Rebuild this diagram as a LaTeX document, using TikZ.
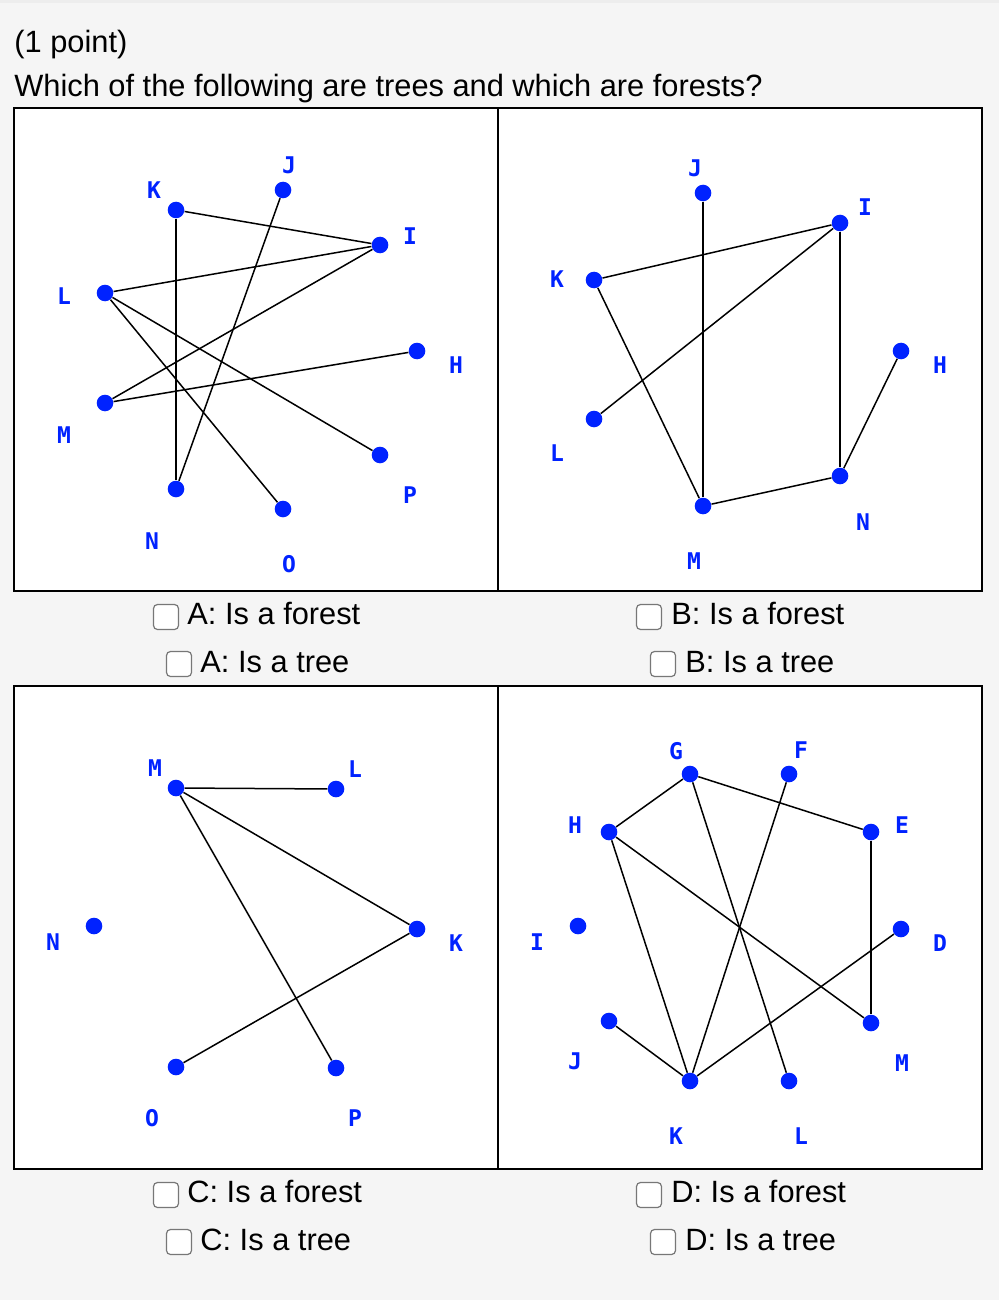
\documentclass[tikz,border=0pt]{standalone}
\usepackage{fontspec}
\setmainfont{Liberation Sans}
\newfontfamily\pixfont{DejaVu Sans Mono}
\usetikzlibrary{positioning}
\usepackage{xcolor}
\definecolor{pagebg}{HTML}{F5F5F5}
\definecolor{boxgray}{HTML}{777777}
\definecolor{dotblue}{HTML}{0022FF}

\begin{document}
\begin{tikzpicture}[x=0.5pt, y=-0.5pt,
  every node/.style={font=\fontsize{15.4}{18}\selectfont},
  panel/.style={draw=black, line width=1pt, fill=white},
  vert/.style={circle, fill=dotblue, inner sep=0pt, minimum size=8.3pt},
  vlabel/.style={text=dotblue, inner sep=0pt, font=\pixfont\bfseries\fontsize{11.5}{11.5}\selectfont},
  link/.style={draw=black, line width=0.75pt},
  checkbox/.style={draw=boxgray, fill=white, rounded corners=2pt, line width=0.6pt, minimum size=12.5pt, inner sep=0pt},
  choice/.style={anchor=base west, inner sep=0pt}]
\fill[pagebg] (0,0) rectangle (999,1300);
\fill[black!7] (0,0) rectangle (999,3);
\node[choice] (points) at (14,53) {(1 point)};
\node[choice] (question) at (14,97) {Which of the following are trees and which are forests?};
% the four frames
\draw[panel] (14,108) rectangle (498,591);
\draw[panel] (498,108) rectangle (982,591);
\draw[panel] (14,686) rectangle (498,1169);
\draw[panel] (498,686) rectangle (982,1169);
% graph A
\node[vert] (aK) at (176,210) {};
\node[vert] (aJ) at (283,190) {};
\node[vert] (aI) at (380,245) {};
\node[vert] (aL) at (105,293) {};
\node[vert] (aH) at (417,351) {};
\node[vert] (aM) at (105,403) {};
\node[vert] (aP) at (380,455) {};
\node[vert] (aN) at (176,489) {};
\node[vert] (aO) at (283,509) {};
\node[vlabel] (aKl) at (154,190) {K};
\node[vlabel] (aJl) at (289,165) {J};
\node[vlabel] (aIl) at (410,236) {I};
\node[vlabel] (aLl) at (64,296) {L};
\node[vlabel] (aHl) at (456,365) {H};
\node[vlabel] (aMl) at (64,435) {M};
\node[vlabel] (aPl) at (410,495) {P};
\node[vlabel] (aNl) at (152,541) {N};
\node[vlabel] (aOl) at (289,564) {O};
\draw[link] (aK) -- (aI);
\draw[link] (aK) -- (aN);
\draw[link] (aJ) -- (aN);
\draw[link] (aL) -- (aI);
\draw[link] (aM) -- (aI);
\draw[link] (aL) -- (aP);
\draw[link] (aL) -- (aO);
\draw[link] (aM) -- (aH);
% graph B
\node[vert] (bJ) at (703,193) {};
\node[vert] (bI) at (840,223) {};
\node[vert] (bK) at (594,280) {};
\node[vert] (bH) at (901,351) {};
\node[vert] (bL) at (594,419) {};
\node[vert] (bN) at (840,476) {};
\node[vert] (bM) at (703,506) {};
\node[vlabel] (bJl) at (695,168) {J};
\node[vlabel] (bIl) at (865,207) {I};
\node[vlabel] (bKl) at (557,279) {K};
\node[vlabel] (bHl) at (940,365) {H};
\node[vlabel] (bLl) at (557,453) {L};
\node[vlabel] (bNl) at (863,522) {N};
\node[vlabel] (bMl) at (694,561) {M};
\draw[link] (bJ) -- (bM);
\draw[link] (bK) -- (bI);
\draw[link] (bI) -- (bL);
\draw[link] (bI) -- (bN);
\draw[link] (bK) -- (bM);
\draw[link] (bM) -- (bN);
\draw[link] (bN) -- (bH);
% graph C
\node[vert] (cM) at (176,788) {};
\node[vert] (cL) at (336,789) {};
\node[vert] (cN) at (94,926) {};
\node[vert] (cK) at (417,929) {};
\node[vert] (cO) at (176,1067) {};
\node[vert] (cP) at (336,1068) {};
\node[vlabel] (cMl) at (155,768) {M};
\node[vlabel] (cLl) at (355,769) {L};
\node[vlabel] (cNl) at (53,942) {N};
\node[vlabel] (cKl) at (456,943) {K};
\node[vlabel] (cOl) at (152,1118) {O};
\node[vlabel] (cPl) at (355,1118) {P};
\draw[link] (cM) -- (cL);
\draw[link] (cM) -- (cK);
\draw[link] (cM) -- (cP);
\draw[link] (cK) -- (cO);
% graph D
\node[vert] (dG) at (690,774) {};
\node[vert] (dF) at (789,774) {};
\node[vert] (dH) at (609,832) {};
\node[vert] (dE) at (871,832) {};
\node[vert] (dI) at (578,926) {};
\node[vert] (dD) at (901,929) {};
\node[vert] (dJ) at (609,1021) {};
\node[vert] (dM) at (871,1023) {};
\node[vert] (dK) at (690,1081) {};
\node[vert] (dL) at (789,1081) {};
\node[vlabel] (dGl) at (676,751) {G};
\node[vlabel] (dFl) at (801,750) {F};
\node[vlabel] (dHl) at (575,825) {H};
\node[vlabel] (dEl) at (902,825) {E};
\node[vlabel] (dIl) at (537,942) {I};
\node[vlabel] (dDl) at (940,943) {D};
\node[vlabel] (dJl) at (575,1061) {J};
\node[vlabel] (dMl) at (902,1063) {M};
\node[vlabel] (dKl) at (676,1136) {K};
\node[vlabel] (dLl) at (801,1136) {L};
\draw[link] (dG) -- (dH);
\draw[link] (dG) -- (dE);
\draw[link] (dG) -- (dL);
\draw[link] (dF) -- (dK);
\draw[link] (dH) -- (dK);
\draw[link] (dH) -- (dM);
\draw[link] (dE) -- (dM);
\draw[link] (dD) -- (dK);
\draw[link] (dJ) -- (dK);
% answer choices
\node[checkbox] (aBoxF) at (166,617) {};
\node[choice] (aForest) at (187,624) {A: Is a forest};
\node[checkbox] (aBoxT) at (179,664) {};
\node[choice] (aTree) at (200,672) {A: Is a tree};
\node[checkbox] (bBoxF) at (649,617) {};
\node[choice] (bForest) at (671,624) {B: Is a forest};
\node[checkbox] (bBoxT) at (663,664) {};
\node[choice] (bTree) at (685,672) {B: Is a tree};
\node[checkbox] (cBoxF) at (166,1195) {};
\node[choice] (cForest) at (187,1202) {C: Is a forest};
\node[checkbox] (cBoxT) at (179,1242) {};
\node[choice] (cTree) at (200,1250) {C: Is a tree};
\node[checkbox] (dBoxF) at (649,1195) {};
\node[choice] (dForest) at (671,1202) {D: Is a forest};
\node[checkbox] (dBoxT) at (663,1242) {};
\node[choice] (dTree) at (685,1250) {D: Is a tree};
\end{tikzpicture}
\end{document}
